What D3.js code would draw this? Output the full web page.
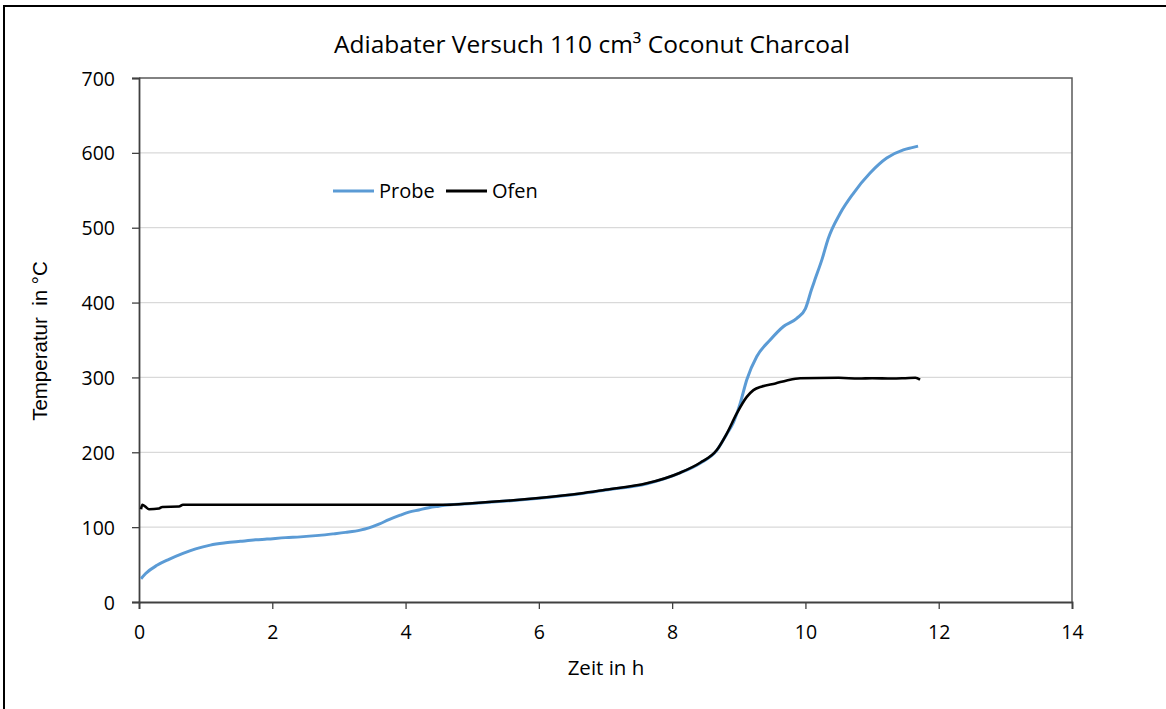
<!DOCTYPE html>
<html><head><meta charset="utf-8">
<script src="https://cdn.jsdelivr.net/npm/d3@7/dist/d3.min.js"></script>
<style>body{margin:0;background:#fff;} svg{display:block;}</style>
</head><body>
<svg id="c" width="1166" height="709"></svg>
<script>
const title = "Adiabater Versuch 110 cm³ Coconut Charcoal";
const xLabel = "Zeit in h";
const yLabel = "Temperatur  in °C";
const xTicks = [0, 2, 4, 6, 8, 10, 12, 14];
const yTicks = [0, 100, 200, 300, 400, 500, 600, 700];

// Probe (sample) temperature
const probeT = [0.03,0.1,0.27,0.45,0.66,0.85,1.07,1.3,1.52,1.75,1.92,2.2,2.42,2.7,2.91,3.1,3.32,3.45,3.6,3.75,3.92,4.05,4.2,4.35,4.5,4.62,5.0,5.62,6.0,6.62,7.0,7.62,8.12,8.42,8.67,8.82,8.92,9.02,9.12,9.27,9.47,9.67,9.87,10.0,10.09,10.14,10.25,10.34,10.52,10.72,10.97,11.22,11.47,11.6,11.69];
const probeV = [31,38,49,57,65,71,76,79,81,83,84,86,87,89,91,93,96,99,104,110,116,120,123,126,128,129.5,131.5,135.5,138.5,144.5,149.5,158,172.5,185.5,202.5,224.5,240,265,297,328,350,368,379,392,417,430,458,485,519,546,573,593,604,607,609];

// Ofen (oven) temperature
const ofenT = [0.03,0.05,0.1,0.15,0.3,0.35,0.6,0.66,1.0,2.0,3.0,4.0,4.62,5.0,5.62,6.0,6.62,7.0,7.62,8.12,8.42,8.67,8.82,8.97,9.12,9.22,9.35,9.55,9.72,9.92,10.5,10.8,11.0,11.3,11.5,11.65,11.72];
const ofenV = [124,130,127,124,125,127,127.5,130,130,130,130,130,130,132,136,139,145,150,158.5,172.7,186,203,225,252,274,283,288,292,296,299,299.5,298.5,299,298.5,299,299.5,297];

const svg = d3.select("#c");
const m = {left:139, right:1072, top:78, bottom:602};
const font = "'Open Sans', sans-serif";

// outer frame
svg.append("rect").attr("x",4).attr("y",6).attr("width",1300).attr("height",900)
  .attr("fill","none").attr("stroke","#000").attr("stroke-width",2);

const x = d3.scaleLinear().domain([0,14]).range([m.left,m.right]);
const y = d3.scaleLinear().domain([0,700]).range([m.bottom,m.top]);

// gridlines
svg.append("g").selectAll("line").data(yTicks.filter(d=>d>0 && d<700)).join("line")
  .attr("x1",m.left).attr("x2",m.right).attr("y1",d=>y(d)).attr("y2",d=>y(d))
  .attr("stroke","#d9d9d9").attr("stroke-width",1.3);

// plot border top/right
svg.append("path").attr("d",`M${m.left},${m.top}H${m.right}V${m.bottom}`)
  .attr("fill","none").attr("stroke","#595959").attr("stroke-width",1.5);

// axes
const xAxis = d3.axisBottom(x).tickValues(xTicks).tickSize(7).tickPadding(16).tickFormat(d3.format("d"));
const gx = svg.append("g").attr("transform",`translate(0,${m.bottom})`).call(xAxis);
const yAxis = d3.axisLeft(y).tickValues(yTicks).tickSize(7).tickPadding(17).tickFormat(d3.format("d"));
const gy = svg.append("g").attr("transform",`translate(${m.left},0)`).call(yAxis);
[gx,gy].forEach(g=>{
  g.select(".domain").attr("stroke","#404040").attr("stroke-width",1.8);
  g.selectAll(".tick line").attr("stroke","#404040").attr("stroke-width",1.3);
  g.selectAll(".tick text").attr("font-family",font).attr("font-size",19.5).attr("fill","#000");
});
gy.selectAll(".tick text").attr("dy","0.36em");

// lines
const line = d3.line().x(d=>x(d[0])).y(d=>y(d[1])).curve(d3.curveMonotoneX);
svg.append("path").datum(d3.zip(probeT,probeV)).attr("d",line)
  .attr("fill","none").attr("stroke","#5b9bd5").attr("stroke-width",3);
svg.append("path").datum(d3.zip(ofenT,ofenV)).attr("d",line)
  .attr("fill","none").attr("stroke","#000").attr("stroke-width",2.6);

// title
svg.append("text").attr("x",592).attr("y",53).attr("text-anchor","middle")
  .attr("font-family",font).attr("font-size",24.5).attr("fill","#000").text(title);
// x label
svg.append("text").attr("x",606).attr("y",675).attr("text-anchor","middle")
  .attr("font-family",font).attr("font-size",20.5).attr("fill","#000").text(xLabel);
// y label
svg.append("text").attr("transform","translate(47,341) rotate(-90)").attr("text-anchor","middle")
  .attr("font-family","'Liberation Sans', Arial, sans-serif").attr("font-size",20.5).attr("fill","#000")
  .style("white-space","pre").text(yLabel);

// legend
const leg = [{name:"Probe",color:"#5b9bd5",x0:333},{name:"Ofen",color:"#000",x0:446}];
const lg = svg.append("g");
leg.forEach(l=>{
  lg.append("line").attr("x1",l.x0).attr("x2",l.x0+41).attr("y1",191).attr("y2",191)
    .attr("stroke",l.color).attr("stroke-width",3);
  lg.append("text").attr("x",l.x0+46).attr("y",198).attr("font-family",font).attr("font-size",20)
    .attr("fill","#000").text(l.name);
});
</script>
</body></html>
